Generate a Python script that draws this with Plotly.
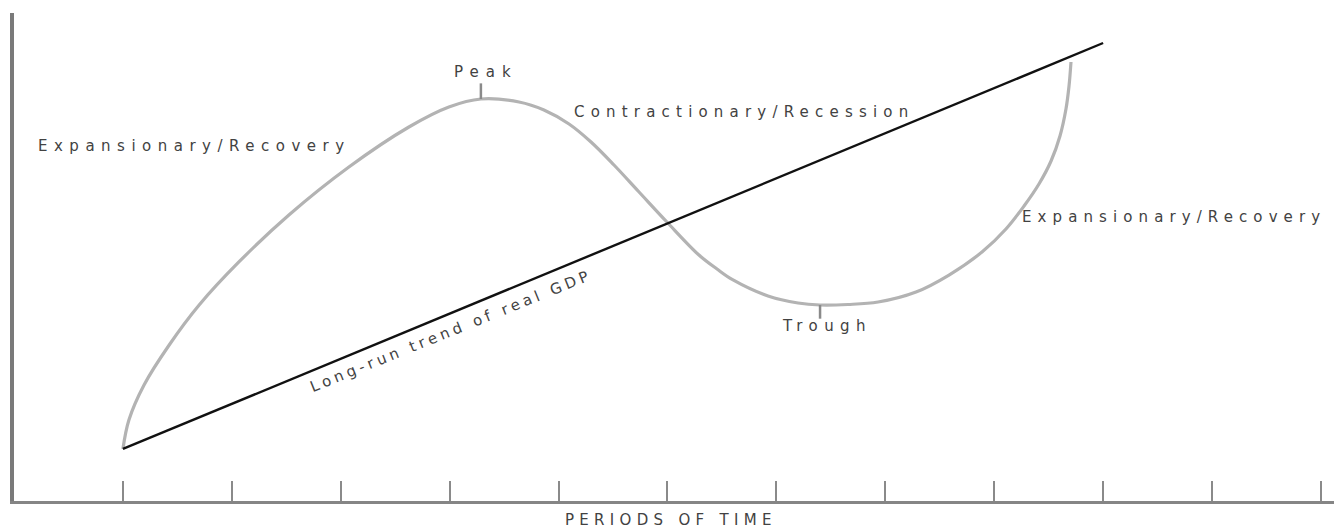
import plotly.graph_objects as go

# ---- data ----
periods = list(range(1, 13))                     # tick marks on the time axis
tick_labels = [""] * 12

# business-cycle curve (period, real-GDP level on a 0-100 scale)
cycle_x = [1.000, 1.055, 1.194, 1.425, 1.700, 2.065, 2.524, 3.075, 3.626, 3.993,
           4.287, 4.637, 4.866, 5.096, 5.298, 5.509, 5.739, 5.995, 6.289, 6.455,
           6.602, 6.923, 7.199, 7.401, 7.658, 7.934, 8.282, 8.585, 8.888, 9.108,
           9.274, 9.411, 9.522, 9.604, 9.659, 9.687, 9.705]
cycle_y = [10.66, 16.60, 23.77, 31.97, 40.16, 48.98, 58.61, 68.44, 76.64, 80.74,
           82.38, 81.76, 80.12, 77.25, 73.56, 68.85, 63.32, 57.17, 50.41, 47.54,
           45.29, 42.01, 40.57, 40.16, 40.27, 40.78, 42.83, 46.31, 51.02, 55.74,
           60.45, 64.96, 69.67, 74.80, 80.33, 85.04, 89.96]
peak_index = 10
trough_index = 23

# long-run trend of real GDP
trend_x = [1.0, 10.0]
trend_y = [10.66, 93.85]

x_title = "PERIODS OF TIME"
label_left = "Expansionary/Recovery"
label_contr = "Contractionary/Recession"
label_right = "Expansionary/Recovery"
label_peak = "Peak"
label_trough = "Trough"
label_trend = "Long-run trend of real GDP"

FONT = "DejaVu Sans"
TXT = "#424242"


def spaced(t, ls):
    return f'<span style="letter-spacing:{ls}px">{t}</span>'


fig = go.Figure()
fig.add_trace(go.Scatter(x=cycle_x, y=cycle_y, mode="lines",
                         line=dict(color="#b3b3b3", width=3.2, shape="spline", smoothing=1.0),
                         hoverinfo="skip", showlegend=False))
fig.add_trace(go.Scatter(x=trend_x, y=trend_y, mode="lines",
                         line=dict(color="#111111", width=2.4),
                         hoverinfo="skip", showlegend=False))

# small tick marks at peak and trough
px, py = cycle_x[peak_index], cycle_y[peak_index]
tx, ty = cycle_x[trough_index], cycle_y[trough_index]
fig.add_shape(type="line", x0=px, x1=px, y0=py, y1=py + 3.2,
              line=dict(color="#8a8a8a", width=2.5))
fig.add_shape(type="line", x0=tx, x1=tx, y0=ty, y1=ty - 2.8,
              line=dict(color="#8a8a8a", width=2.5))

anns = [
    dict(x=1.655, y=72.7, text=spaced(label_left, 6.5), xanchor="center", yanchor="middle"),
    dict(x=6.700, y=79.7, text=spaced(label_contr, 6.2), xanchor="center", yanchor="middle"),
    dict(x=9.240, y=58.2, text=spaced(label_right, 6.1), xanchor="left", yanchor="middle"),
    dict(x=px + 0.05, y=py + 5.6, text=spaced(label_peak, 7.0), xanchor="center", yanchor="middle"),
    dict(x=tx + 0.06, y=ty - 4.3, text=spaced(label_trough, 6.4), xanchor="center", yanchor="middle"),
    dict(x=4.013, y=34.8, text=spaced(label_trend, 3.9), xanchor="center", yanchor="middle",
         textangle=-22),
]
for a in anns:
    fig.add_annotation(xref="x", yref="y", showarrow=False,
                       font=dict(family=FONT, size=15, color=TXT), **a)

fig.add_annotation(xref="x", yref="paper", x=6.03, y=0, yshift=-19,
                   text=spaced(x_title, 5.3), showarrow=False, xanchor="center", yanchor="middle",
                   font=dict(family=FONT, size=15, color=TXT))

fig.update_layout(
    width=1334, height=528,
    margin=dict(l=14, r=0, t=13, b=27),
    paper_bgcolor="white", plot_bgcolor="white",
    xaxis=dict(range=[0, 12.12], tickvals=periods, ticktext=tick_labels,
               ticks="inside", ticklen=20, tickwidth=2, tickcolor="#8a8a8a",
               showline=True, linecolor="#858585", linewidth=3,
               showgrid=False, zeroline=False, fixedrange=True),
    yaxis=dict(range=[0, 100], showticklabels=False, ticks="",
               showline=True, linecolor="#7a7a7a", linewidth=3.5,
               showgrid=False, zeroline=False, fixedrange=True),
)

fig.write_html("out.html", config={"displayModeBar": False},
               post_script="document.body.style.margin='0';document.body.style.overflow='hidden';")
